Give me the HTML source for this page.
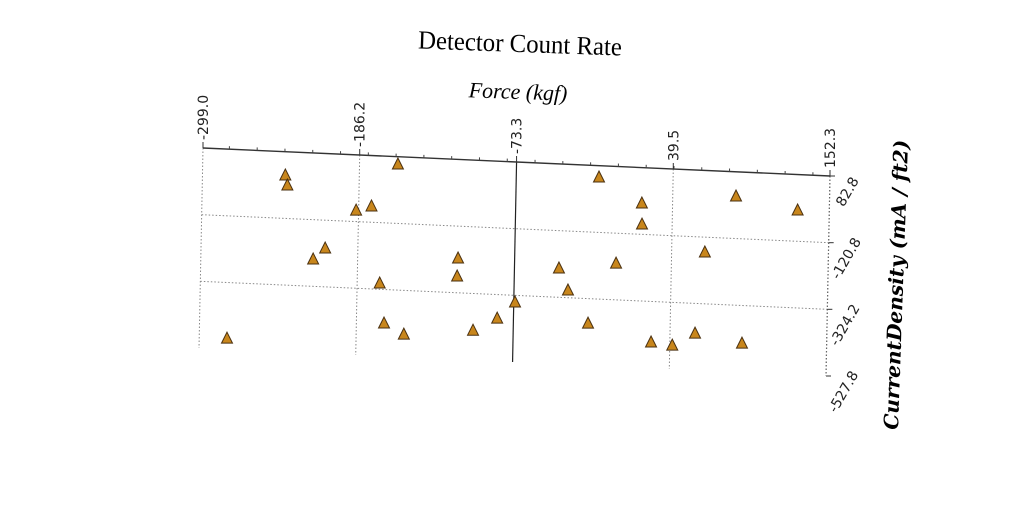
<!DOCTYPE html>
<html><head><meta charset="utf-8"><style>
html,body{margin:0;padding:0;background:#fff;}
svg{display:block;}
</style></head><body>
<svg id="chart" width="1024" height="512" viewBox="0 0 1024 512" xmlns="http://www.w3.org/2000/svg">
<text x="520" y="52" text-anchor="middle" font-family="Liberation Serif, serif" font-size="26" textLength="204" lengthAdjust="spacingAndGlyphs" transform="rotate(2 520 45)">Detector Count Rate</text>
<text x="518" y="99" text-anchor="middle" font-family="Liberation Serif, serif" font-style="italic" font-size="22" transform="rotate(2 518 93)">Force (kgf)</text>
<text x="0" y="0" text-anchor="middle" font-family="DejaVu Serif, serif" font-style="italic" font-weight="bold" font-size="20" textLength="290" lengthAdjust="spacingAndGlyphs" transform="translate(903 285) rotate(-88)">CurrentDensity (mA / ft2)</text>
<g id="plot"></g>
</svg>
<script>
const xTicks=[-299.0,-186.2,-73.3,39.5,152.3];
const xTickLabels=["-299.0","-186.2","-73.3","39.5","152.3"];
const yTicks=[82.8,-120.8,-324.2,-527.8];
const yTickLabels=["82.8","-120.8","-324.2","-527.8"];
const xValues=[-239.4,-237.8,-158.6,-188,-177,-13.8,17.4,17.8,85,129.5,-209.7,-218.2,-114,-114.4,-170,-41.3,-0.3,63.4,-34.5,-72.4,-166.3,-151.9,-102.2,-85,-19.6,-279,26,41.3,57.5,91.4];
const yValues=[11.7,-18.6,60.5,-85.7,-71,48.3,-25.2,-89.4,8.9,-25.3,-205.7,-240.8,-218,-273,-305,-234.7,-212,-166,-300.7,-344.6,-426.5,-457.6,-436.2,-396,-399,-494,-448,-454.6,-414.8,-439];
const X0=-299,X1=152.3,Y0=82.8,Y1=-527.8;
function P(x,y){const u=(x-X0)/(X1-X0),t=(Y0-y)/(Y0-Y1);return [203+627*u-4*t,148+28*u+200*t];}
const NS="http://www.w3.org/2000/svg",g=document.getElementById('plot');
function line(a,b,st,w,dash,name){const l=document.createElementNS(NS,'line');l.setAttribute('x1',a[0]);l.setAttribute('y1',a[1]);l.setAttribute('x2',b[0]);l.setAttribute('y2',b[1]);l.setAttribute('stroke',st);l.setAttribute('stroke-width',w);if(dash)l.setAttribute('stroke-dasharray',dash);


g.appendChild(l);}
xTicks.forEach((v,i)=>{const solid=(i==2);line(P(v,Y0),P(v,Y1),solid?'#222':'#888',solid?1.2:1,solid?null:'1.5,2','x-gridline');});
yTicks.forEach((v,i)=>{if(i==0||i==yTicks.length-1)return;line(P(X0,v),P(X1,v),'#888',1,'1.5,2','y-gridline');});
line(P(X1,Y0),P(X1,Y1),'#666',1.2,'1.5,2','y-axis-line');
line(P(X0,Y0),P(X1,Y0),'#333',1.4,null,'x-axis-line');
for(let v=-280;v<X1;v+=20){const p=P(v,Y0);line(p,[p[0],p[1]-3],'#444',1,null,'x-minor-tick');}
xTicks.forEach((v,i)=>{const p=P(v,Y0);line(p,[p[0],p[1]-6],'#333',1,null,'x-tick');
const t=document.createElementNS(NS,'text');t.setAttribute('x',0);t.setAttribute('y',0);t.setAttribute('font-family','DejaVu Sans, sans-serif');t.setAttribute('font-size','14');t.setAttribute('fill','#222');t.setAttribute('transform',`translate(${p[0]+5} ${p[1]-8}) rotate(-90)`);t.textContent=xTickLabels[i];


g.appendChild(t);});
yTicks.forEach((v,i)=>{const p=P(X1,v);line(p,[p[0]+5,p[1]],'#333',1,null,'y-tick');
const t=document.createElementNS(NS,'text');t.setAttribute('x',0);t.setAttribute('y',4);t.setAttribute('text-anchor','middle');t.setAttribute('font-family','DejaVu Sans, sans-serif');t.setAttribute('font-size','14');t.setAttribute('fill','#222');t.setAttribute('transform',`translate(${p[0]+18} ${p[1]+16}) rotate(-60)`);t.textContent=yTickLabels[i];


g.appendChild(t);});
xValues.forEach((x,i)=>{const p=P(x,yValues[i]);const m=document.createElementNS(NS,'path');
m.setAttribute('d',`M${p[0]},${p[1]-6} L${p[0]+5.5},${p[1]+5} L${p[0]-5.5},${p[1]+5} Z`);m.setAttribute('fill','#c8861c');m.setAttribute('stroke','#4a3010');m.setAttribute('stroke-width','1');


g.appendChild(m);});
</script>
</body></html>
